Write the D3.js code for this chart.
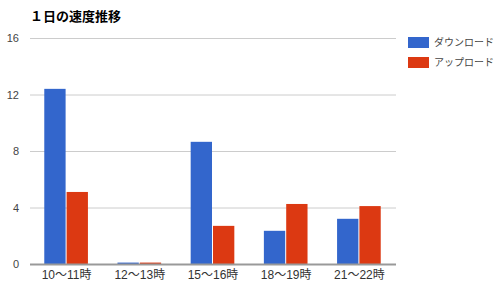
<!DOCTYPE html>
<html>
<head>
<meta charset="utf-8">
<script src="https://cdn.jsdelivr.net/npm/d3@7"></script>
<style>
  body { margin: 0; background: #fff; }
  text { font-family: Arial, "Liberation Sans", "Noto Sans CJK JP", sans-serif; }
</style>
</head>
<body>
<div id="chart"></div>
<script>
var categories = ["10～11時", "12～13時", "15～16時", "18～19時", "21～22時"];
var seriesNames = ["ダウンロード", "アップロード"];
var download = [12.4, 0.1, 8.65, 2.35, 3.2];
var upload = [5.1, 0.1, 2.7, 4.25, 4.1];
var yTicks = [0, 4, 8, 12, 16];
var colors = ["#3366cc", "#dc3912"];

var width = 500, height = 290;
var plot = {left: 30, right: 396, top: 38, bottom: 264};

var svg = d3.select("#chart").append("svg")
    .attr("width", width)
    .attr("height", height);

svg.append("text")
    .attr("x", 30)
    .attr("y", 21)
    .attr("font-size", 13)
    .attr("font-weight", "bold")
    .attr("fill", "#000")
    .style("font-family", "'Noto Sans CJK JP', sans-serif")
    .text("１日の速度推移");

var x = d3.scaleBand()
    .domain(categories)
    .range([plot.left, plot.right])
    .paddingInner(0.39)
    .paddingOuter(0.195);

var x1 = d3.scaleBand()
    .domain(d3.range(seriesNames.length))
    .range([0, x.bandwidth()]);

var y = d3.scaleLinear()
    .domain([0, 16])
    .range([plot.bottom, plot.top]);

// gridlines
svg.append("g").selectAll("line")
    .data(yTicks.filter(function (d) { return d > 0; }))
    .enter()
    .append("line")
    .attr("x1", plot.left)
    .attr("x2", plot.right)
    .attr("y1", function (d) { return y(d) + 0.5; })
    .attr("y2", function (d) { return y(d) + 0.5; })
    .attr("stroke", "#cccccc")
    .attr("stroke-width", 1);

// y labels
svg.append("g").selectAll("text")
    .data(yTicks)
    .enter()
    .append("text")
    .attr("x", 19)
    .attr("y", function (d) { return y(d) + 4; })
    .attr("text-anchor", "end")
    .attr("font-size", 11)
    .attr("fill", "#444")
    .text(function (d) { return d; });

var rows = categories.map(function (c, i) {
    return {cat: c, values: [download[i], upload[i]]};
});

var groups = svg.append("g").selectAll("g")
    .data(rows)
    .enter()
    .append("g")
    .attr("transform", function (d) { return "translate(" + x(d.cat) + ",0)"; });

groups.selectAll("rect")
    .data(function (d) { return d.values.map(function (v, k) { return {k: k, v: v}; }); })
    .enter()
    .append("rect")
    .attr("x", function (d) { return x1(d.k); })
    .attr("y", function (d) { return y(d.v); })
    .attr("width", x1.bandwidth() - 1)
    .attr("height", function (d) { return y(0) - y(d.v); })
    .attr("fill", function (d) { return colors[d.k]; });

// baseline
svg.append("line")
    .attr("x1", plot.left)
    .attr("x2", plot.right)
    .attr("y1", y(0) + 0.5)
    .attr("y2", y(0) + 0.5)
    .attr("stroke", "#999999")
    .attr("stroke-width", 2);

// x labels
svg.append("g").selectAll("text")
    .data(categories)
    .enter()
    .append("text")
    .attr("x", function (d) { return x(d) + x.bandwidth() / 2; })
    .attr("y", 279)
    .attr("text-anchor", "middle")
    .attr("font-size", 12)
    .attr("fill", "#333")
    .text(function (d) { return d; });

// legend
var legend = svg.append("g").selectAll("g")
    .data(seriesNames)
    .enter()
    .append("g")
    .attr("transform", function (d, i) { return "translate(408," + (37 + i * 20) + ")"; });

legend.append("rect")
    .attr("width", 21)
    .attr("height", 11)
    .attr("fill", function (d, i) { return colors[i]; });

legend.append("text")
    .attr("x", 26)
    .attr("y", 9)
    .attr("font-size", 10)
    .attr("fill", "#444")
    .text(function (d) { return d; });
</script>
</body>
</html>
